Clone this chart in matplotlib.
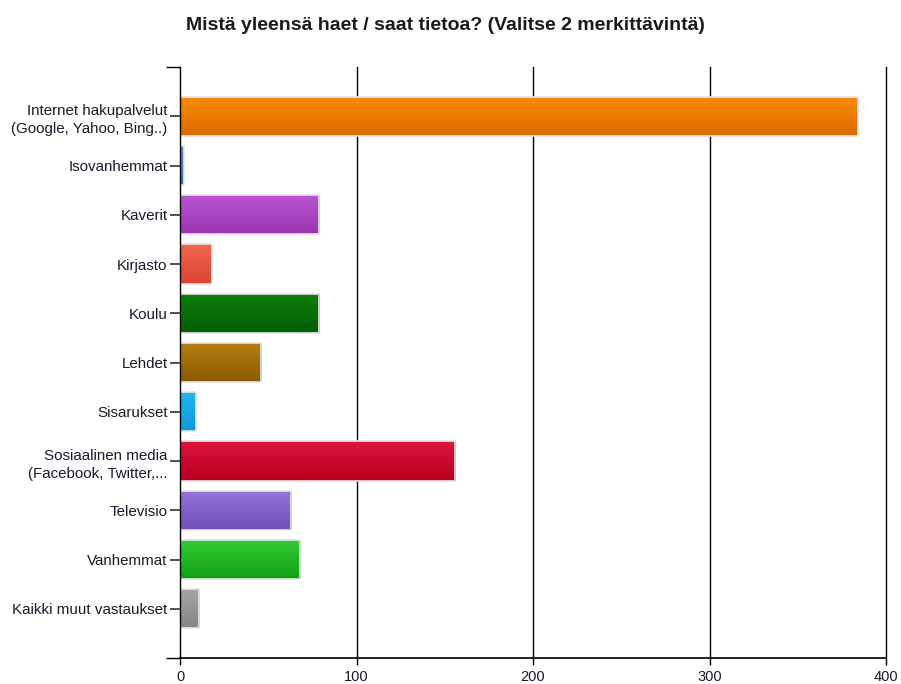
import numpy as np
import matplotlib
matplotlib.use('Agg')
import matplotlib.pyplot as plt
from matplotlib.colors import LinearSegmentedColormap

plt.rcParams['font.family'] = ['Liberation Sans', 'DejaVu Sans']

title = 'Mistä yleensä haet / saat tietoa? (Valitse 2 merkittävintä)'
categories = ['Internet hakupalvelut\n(Google, Yahoo, Bing..)', 'Isovanhemmat', 'Kaverit',
              'Kirjasto', 'Koulu', 'Lehdet', 'Sisarukset',
              'Sosiaalinen media\n(Facebook, Twitter,...', 'Televisio', 'Vanhemmat',
              'Kaikki muut vastaukset']
values = [384, 2, 79, 18, 79, 46, 9, 156, 63, 68, 11]
# top colour, bottom colour of each bar's gradient
top_colors = ['#FA8C00', '#5A8EE0', '#BB55D2', '#F4654C', '#0C800C', '#B57F12',
              '#25B8F5', '#DC1440', '#9575DA', '#35CC35', '#A6A6A6']
bot_colors = ['#DC6A00', '#3F6FC8', '#9A35B0', '#D94432', '#055E05', '#8A5A00',
              '#0A98DA', '#B80020', '#7050B8', '#10A010', '#858585']

fig = plt.figure(figsize=(9.01, 6.84), dpi=100)
ax = fig.add_axes([0.1998, 0.038, 0.7836, 0.864])

n = len(categories)
ypos = np.arange(n)
h = 0.8
bars = ax.barh(ypos, values, height=h, color='none', edgecolor='#E6E6E6', linewidth=1.2, zorder=3)
grad = np.linspace(0, 1, 64).reshape(-1, 1)
for b, c1, c2 in zip(bars, top_colors, bot_colors):
    cmap = LinearSegmentedColormap.from_list('g', [c1, c2])
    x0, y0 = b.get_x(), b.get_y()
    im = ax.imshow(grad, cmap=cmap, aspect='auto', zorder=2,
                   extent=[x0, x0 + b.get_width(), y0 + b.get_height(), y0], origin='upper')
    im.set_clip_path(b)

ax.set_xlim(0, 400)
ax.set_ylim(n, -1)
ax.set_yticks(ypos)
ax.set_yticklabels(categories, fontsize=10.9, color='#1a1a2a', linespacing=1.4)
ax.set_xticks([0, 100, 200, 300, 400])
ax.tick_params(axis='x', labelsize=10.5, length=5, width=1, color='black', labelcolor='#1a1a2a')
ax.tick_params(axis='y', length=7, width=1.2, color='#333333', pad=2)
ax.set_yticks([-1, n], minor=True)
ax.tick_params(axis='y', which='minor', length=10, width=1, color='black')

for xv in [100, 200, 300, 400]:
    ax.axvline(xv, color='black', linewidth=1, zorder=1, clip_on=False)
for s in ['top', 'right']:
    ax.spines[s].set_visible(False)
ax.spines['left'].set_linewidth(1)
ax.spines['left'].set_zorder(5)
ax.spines['bottom'].set_linewidth(1.2)
ax.spines['bottom'].set_zorder(5)

fig.suptitle(title, x=0.494, y=0.975, fontsize=14, fontweight='bold', color='#1a1a1a')

plt.savefig('out.png', dpi=100)
